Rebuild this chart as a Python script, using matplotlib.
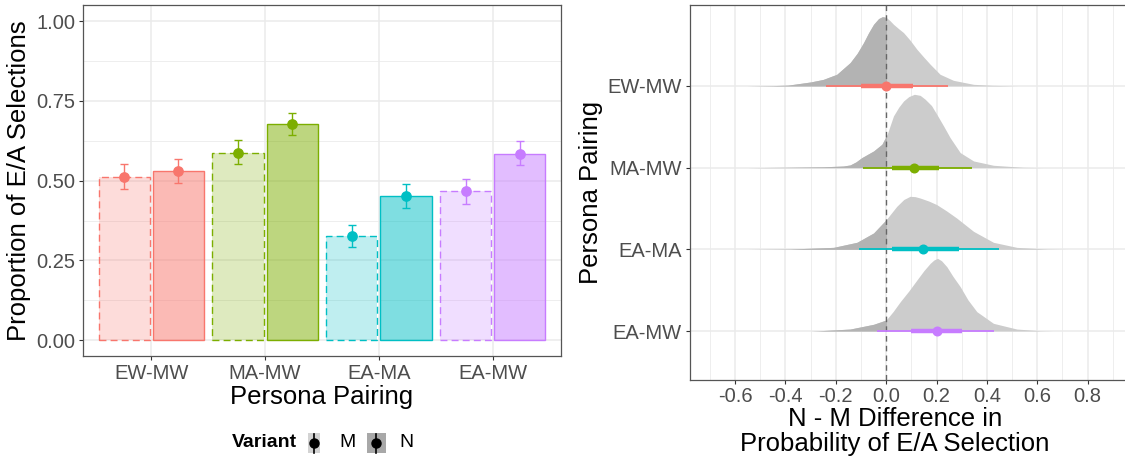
import matplotlib
matplotlib.use('Agg')
import matplotlib.pyplot as plt
from matplotlib.patches import Rectangle
from matplotlib.lines import Line2D
from matplotlib.ticker import MultipleLocator

plt.rcParams['font.family'] = ['Liberation Sans', 'DejaVu Sans']

W, H = 1125, 461

pairings = ['EW-MW', 'MA-MW', 'EA-MA', 'EA-MW']
colors = ['#F8766D', '#7CAE00', '#00BFC4', '#C77CFF']

# proportion of E/A selections per variant, with interval bounds
prop_m = [0.513, 0.588, 0.327, 0.467]
prop_n = [0.530, 0.677, 0.451, 0.585]
m_lo = [0.475, 0.551, 0.292, 0.428]
m_hi = [0.551, 0.626, 0.362, 0.504]
n_lo = [0.493, 0.643, 0.415, 0.549]
n_hi = [0.569, 0.712, 0.490, 0.623]

# posterior N - M difference: median, 66% and 95% intervals
diff_med = [0.000, 0.112, 0.146, 0.201]
diff_lo66 = [-0.099, 0.025, 0.025, 0.098]
diff_hi66 = [0.108, 0.210, 0.290, 0.302]
diff_lo95 = [-0.238, -0.094, -0.107, -0.036]
diff_hi95 = [0.247, 0.340, 0.447, 0.429]

# posterior density outlines (x, scaled height)
dens_x_ewmw = [-0.55, -0.45, -0.39, -0.30, -0.25, -0.196, -0.143, -0.115, -0.09, -0.07,
               -0.05, -0.03, -0.015, 0.0, 0.015, 0.029, 0.05, 0.069, 0.095, 0.122,
               0.15, 0.175, 0.214, 0.267, 0.347, 0.42, 0.52]
dens_h_ewmw = [0.0, 0.004, 0.01, 0.049, 0.08, 0.143, 0.286, 0.40, 0.53, 0.65,
               0.755, 0.825, 0.848, 0.84, 0.80, 0.755, 0.70, 0.653, 0.56, 0.449,
               0.35, 0.265, 0.143, 0.069, 0.02, 0.008, 0.0]
dens_x_mamw = [-0.55, -0.40, -0.25, -0.17, -0.143, -0.12, -0.097, -0.05, -0.017, 0.004,
               0.029, 0.05, 0.069, 0.09, 0.112, 0.135, 0.155, 0.18, 0.201, 0.228,
               0.254, 0.294, 0.347, 0.426, 0.545, 0.62]
dens_h_mamw = [0.0, 0.004, 0.01, 0.02, 0.033, 0.07, 0.122, 0.204, 0.286, 0.408,
               0.633, 0.74, 0.816, 0.87, 0.898, 0.885, 0.837, 0.76, 0.653, 0.51,
               0.367, 0.184, 0.082, 0.029, 0.004, 0.0]
dens_x_eama = [-0.55, -0.381, -0.209, -0.116, -0.05, 0.0, 0.042, 0.07, 0.095, 0.115,
               0.135, 0.17, 0.201, 0.24, 0.280, 0.347, 0.426, 0.519, 0.638, 0.72]
dens_h_eama = [0.0, 0.004, 0.024, 0.086, 0.2, 0.363, 0.526, 0.61, 0.649, 0.645,
               0.628, 0.59, 0.547, 0.47, 0.383, 0.22, 0.086, 0.024, 0.004, 0.0]
dens_x_eamw = [-0.30, -0.262, -0.143, -0.05, 0.0, 0.028, 0.056, 0.09, 0.122, 0.15,
               0.175, 0.19, 0.204, 0.22, 0.241, 0.265, 0.294, 0.325, 0.360, 0.426,
               0.519, 0.611, 0.66]
dens_h_eamw = [0.0, 0.004, 0.024, 0.082, 0.135, 0.24, 0.359, 0.49, 0.624, 0.74,
               0.829, 0.87, 0.89, 0.86, 0.787, 0.67, 0.543, 0.38, 0.237, 0.094,
               0.024, 0.004, 0.0]
dens_x = [dens_x_ewmw, dens_x_mamw, dens_x_eama, dens_x_eamw]
dens_h = [dens_h_ewmw, dens_h_mamw, dens_h_eama, dens_h_eamw]

TICK_COL = '#4D4D4D'
GRID_COL = '#EBEBEB'
BORDER = '#555555'
TICK_FS = 14.5
TITLE_FS = 18.5


def style_axes(ax):
    for s in ax.spines.values():
        s.set_color(BORDER)
        s.set_linewidth(0.9)
    ax.tick_params(which='major', length=3, width=0.8, color='#333333',
                   labelcolor=TICK_COL, labelsize=TICK_FS, pad=2.5)
    ax.tick_params(which='minor', length=0)
    ax.grid(which='major', color=GRID_COL, linewidth=1.1)
    ax.grid(which='minor', color=GRID_COL, linewidth=0.6)
    ax.set_axisbelow(True)


def px(x, y):
    return x / W, 1 - y / H


fig = plt.figure(figsize=(W / 100, H / 100), dpi=100)

# ---- left: bar chart ----
ax1 = fig.add_axes([83 / W, 1 - 356 / H, 478 / W, 350.7 / H])
style_axes(ax1)
xs = list(range(1, len(pairings) + 1))
off, bw = 0.2375, 0.45
for i, x in enumerate(xs):
    c = colors[i]
    ax1.bar(x - off, prop_m[i], width=bw, color=c, alpha=0.25, zorder=2)
    ax1.bar(x - off, prop_m[i], width=bw, fill=False, edgecolor=c, linewidth=1.0,
            linestyle=(0, (5, 3)), zorder=3)
    ax1.bar(x + off, prop_n[i], width=bw, color=c, alpha=0.5, zorder=2)
    ax1.bar(x + off, prop_n[i], width=bw, fill=False, edgecolor=c, linewidth=1.0, zorder=3)
    ax1.errorbar(x - off, prop_m[i], yerr=[[prop_m[i] - m_lo[i]], [m_hi[i] - prop_m[i]]],
                 fmt='o', color=c, markersize=6.7, elinewidth=1.0, capsize=3, capthick=1.0, zorder=4)
    ax1.errorbar(x + off, prop_n[i], yerr=[[prop_n[i] - n_lo[i]], [n_hi[i] - prop_n[i]]],
                 fmt='o', color=c, markersize=6.7, elinewidth=1.0, capsize=3, capthick=1.0, zorder=4)
ax1.set_xlim(0.4, 4.6)
ax1.set_ylim(-0.05, 1.05)
ax1.set_xticks(xs)
ax1.set_xticklabels(pairings)
ax1.set_yticks([0, 0.25, 0.5, 0.75, 1.0])
ax1.set_yticklabels(['0.00', '0.25', '0.50', '0.75', '1.00'])
ax1.yaxis.set_minor_locator(MultipleLocator(0.125))
ax1.set_xlabel('Persona Pairing', fontsize=TITLE_FS)
ax1.set_ylabel('Proportion of E/A Selections', fontsize=TITLE_FS)
ax1.xaxis.set_label_coords(0.5, -0.083)
ax1.yaxis.set_label_coords(-0.108, 0.5)

# ---- right: posterior difference half-eyes ----
ax2 = fig.add_axes([689.5 / W, 1 - 379.7 / H, (W - 689.5) / W, 374.2 / H])
style_axes(ax2)
ax2.spines['right'].set_visible(False)
ypos = [4, 3, 2, 1]
for i, y in enumerate(ypos):
    bx = dens_x[i]
    top = [y + h for h in dens_h[i]]
    ax2.fill_between(bx, y, top, color='#CCCCCC', linewidth=0, zorder=2)
    dark = ax2.fill_between(bx, y, top, color='#B3B3B3', linewidth=0, zorder=2.1)
    clip = Rectangle((-2, 0), 2, 10, transform=ax2.transData)
    dark.set_clip_path(clip)
ax2.axvline(0, color='#666666', linewidth=1.0, linestyle=(0, (4, 3)), zorder=3)
for i, y in enumerate(ypos):
    c = colors[i]
    ax2.plot([diff_lo95[i], diff_hi95[i]], [y, y], color=c, linewidth=1.3,
             solid_capstyle='butt', zorder=4)
    ax2.plot([diff_lo66[i], diff_hi66[i]], [y, y], color=c, linewidth=3.2,
             solid_capstyle='butt', zorder=4)
    ax2.plot(diff_med[i], y, 'o', color=c, markersize=6.2, zorder=5)
ax2.set_xlim(-0.781, (W - 886) / 252)
ax2.set_ylim(0.404, 4.985)
ax2.set_yticks(ypos)
ax2.set_yticklabels(pairings)
ax2.set_xticks([-0.6, -0.4, -0.2, 0.0, 0.2, 0.4, 0.6, 0.8])
ax2.set_xticklabels(['-0.6', '-0.4', '-0.2', '0.0', '0.2', '0.4', '0.6', '0.8'])
ax2.xaxis.set_minor_locator(MultipleLocator(0.1))
ax2.set_ylabel('Persona Pairing', fontsize=TITLE_FS)
ax2.yaxis.set_label_coords(-0.199, 0.5)
ax2.set_xlabel('N - M Difference in\nProbability of E/A Selection', fontsize=TITLE_FS,
              linespacing=1.05)
ax2.xaxis.set_label_coords(0.472, -0.072)

# ---- legend for variant ----
fig.text(*px(232, 442), 'Variant', fontsize=14, fontweight='bold', va='center', ha='left')
keys = [('M', 308.3, 11.5, '#D3D3D3', 339), ('N', 366.7, 19.3, '#A8A8A8', 399)]
for lab, kx, kw, kc, tx in keys:
    x0, y0 = px(kx, 453.3)
    fig.patches.append(Rectangle((x0, y0), kw / W, 20.6 / H, transform=fig.transFigure,
                                 facecolor=kc, edgecolor='none'))
    cx = kx + kw / 2
    fig.lines.append(Line2D([cx / W, cx / W], [1 - 434 / H, 1 - 452.5 / H],
                            transform=fig.transFigure, color='black', linewidth=1.2))
    fig.lines.append(Line2D([cx / W], [1 - 443 / H], transform=fig.transFigure,
                            marker='o', color='black', markersize=6.5))
    fig.text(*px(tx, 442), lab, fontsize=14, va='center', ha='left')

fig.savefig('out.png', dpi=100)
